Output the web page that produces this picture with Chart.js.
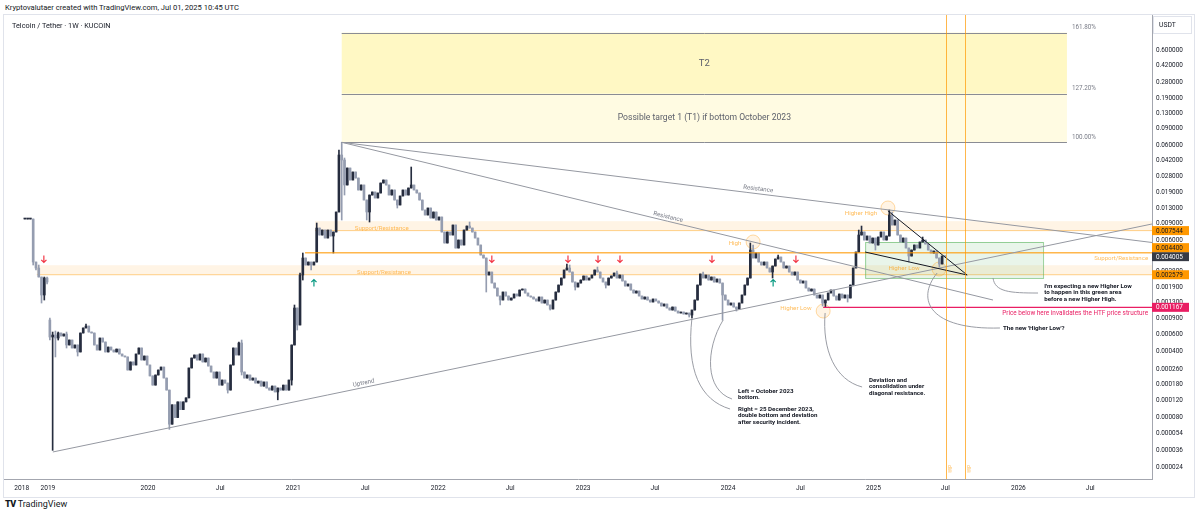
<!doctype html>
<html lang="en">
<head>
<meta charset="utf-8">
<title>Telcoin / Tether - 1W - KUCOIN</title>
<style>
  * { margin: 0; padding: 0; }
  body { width: 1200px; height: 515px; overflow: hidden; background: #fff; position: relative;
         font-family: Roboto, sans-serif; color: #131722; }
  .credit { position: absolute; left: 5px; top: 3px; font-size: 7.6px; }
  .frame { position: absolute; left: 3px; top: 14px; width: 1190px; height: 482px; border: 1px solid #e0e3eb; }
  .frame canvas { position: absolute; left: 0; top: 0; }
  .title { position: absolute; left: 8px; top: 6px; font-size: 7.3px; color: #131722; }
  .logo { position: absolute; left: 5px; top: 499px; font-size: 9px; }
  .logo b { font-weight: 900; letter-spacing: -0.5px; margin-right: 2px; }
</style>
</head>
<body>
<div class="credit">Kryptovalutaer created with TradingView.com, Jul 01, 2025 10:45 UTC</div>
<div class="frame">
  <canvas id="chart" width="1190" height="482"></canvas>
  <div class="title">Telcoin / Tether · 1W · KUCOIN</div>
</div>
<div class="logo"><b>TV</b>TradingView</div>

<script src="https://cdn.jsdelivr.net/npm/chart.js"></script>
<script>
// ---- data ----
// weekly candles, first one is the week of 2019-02-25
const firstWeek = '2019-02-25';
// prices in millionths of a USDT (1e-6)
const closes = [
  10000, 10000, 10000, 3514, 3037, 2440, 1575, 2381, 2160, 567,
  595, 553, 625, 581, 610, 467, 527, 434, 467, 394,
  625, 706, 740, 640, 625, 467, 413, 553, 502, 394,
  444, 413, 394, 423, 375, 357, 349, 254, 309, 287,
  375, 434, 324, 357, 287, 220, 176, 225, 254, 273,
  209, 156, 68, 109, 80, 117, 97, 117, 129, 267,
  340, 366, 324, 375, 309, 340, 280, 242, 209, 242,
  176, 199, 185, 156, 287, 434, 366, 490, 242, 209,
  225, 199, 209, 185, 194, 172, 190, 164, 156, 172,
  149, 164, 156, 176, 156, 199, 467, 1148, 759, 2562,
  3873, 3267, 3514, 3267, 3514, 8030, 6776, 7652, 6299, 7652,
  6613, 7291, 11860, 47450, 42020, 22880, 34580, 25830, 31390, 27110,
  20260, 22880, 15880, 11860, 17930, 19300, 16680, 18830, 24010, 25830,
  22880, 17930, 20260, 15880, 14060, 17500, 20260, 17930, 21260, 22880,
  20260, 18830, 15880, 12450, 11020, 13070, 10250, 11860, 9762, 10500,
  7291, 5578, 7291, 6776, 8642, 4939, 6000, 5313, 7652, 8430,
  8030, 7291, 6299, 5313, 4166, 3873, 2562, 2755, 2108, 1867,
  1537, 1394, 1694, 1537, 1394, 1464, 1613, 1537, 1778, 1822,
  1653, 1537, 1500, 1429, 1361, 1500, 1296, 1394, 1235, 1120,
  1394, 1694, 2008, 2381, 2893, 3037, 2755, 2160, 1913, 2108,
  2268, 2500, 2268, 2381, 2562, 2893, 2755, 2381, 2160, 2008,
  2381, 2500, 2689, 2381, 2562, 2214, 1960, 2058, 1778, 1653,
  1736, 1537, 1429, 1500, 1394, 1328, 1429, 1361, 1296, 1205,
  1265, 1148, 1093, 1176, 1067, 1016, 1041, 992, 1016, 968,
  1093, 1394, 2008, 2625, 2381, 2562, 2268, 2440, 2160, 2324,
  2108, 1575, 1394, 1235, 1296, 1176, 1120, 1296, 1575, 2008,
  2381, 4705, 3873, 4374, 3514, 3267, 3514, 3037, 2755, 3188,
  3780, 3968, 3514, 3037, 3188, 2755, 2562, 2755, 2268, 2108,
  2214, 1867, 1736, 1822, 1575, 1464, 1575, 1296, 1394, 1653,
  1778, 1537, 1394, 1613, 1464, 1575, 1464, 2008, 3037, 4481,
  6776, 7291, 6000, 6613, 5578, 6299, 5313, 6454, 7291, 6000,
  6613, 11020, 8642, 9762, 6776, 5715, 6299, 4939, 4066, 4705,
  5313, 4939, 5715, 6000, 5444, 4705, 4374, 4590, 3873, 3347,
  4066, 4005
];
// a candle opens at the previous close, except where the feed gaps
const gapOpens = { 0: 10000, 9: 857 };
// wicks that stick out of the body (candle index -> price)
const wickHighs = { 5: 3267, 7: 2440, 8: 2440, 9: 900, 10: 640, 11: 656, 12: 640, 15: 640, 22: 778,
  77: 502, 78: 527, 97: 1235, 99: 2689, 100: 4374, 105: 9075, 113: 53600, 114: 64600, 115: 44120,
  139: 35430, 160: 9300, 195: 3347, 196: 3267, 206: 3112, 213: 2823, 244: 2755, 261: 5578,
  262: 5313, 271: 4166, 300: 7652, 301: 8430, 311: 12450, 312: 11860, 323: 6454 };
const wickLows = { 3: 3267, 4: 2893, 6: 1296, 7: 1394, 8: 2058, 9: 527, 10: 36, 11: 349, 12: 527,
  15: 434, 19: 357, 52: 60, 73: 145, 78: 225, 91: 123, 96: 176, 98: 672, 100: 2268, 103: 2893,
  111: 4374, 114: 9762, 115: 17930, 123: 9762, 124: 9300, 134: 13070, 166: 1694, 171: 1235,
  189: 1093, 198: 1778, 209: 1867, 239: 922, 240: 900, 251: 857, 256: 1067, 269: 2381,
  287: 1205, 288: 1167, 296: 1328, 306: 4705, 318: 3514, 329: 3112 };

const xTickLabels = ['2018', '2019', '2020', 'Jul', '2021', 'Jul', '2022', 'Jul', '2023', 'Jul',
  '2024', 'Jul', '2025', 'Jul', '2026', 'Jul'];
// TradingView squeezes the first two year labels in at the start of the series
const xTickDates = ['2019-02-17', '2019-04-24', '2020-01-01', '2020-07-01', '2021-01-01', '2021-07-01',
  '2022-01-01', '2022-07-01', '2023-01-01', '2023-07-01', '2024-01-01', '2024-07-01',
  '2025-01-01', '2025-07-01', '2026-01-01', '2026-07-01'];
const yTicks = [0.6, 0.42, 0.28, 0.19, 0.13, 0.09, 0.06, 0.042, 0.028, 0.019, 0.013, 0.009, 0.006,
  0.004, 0.0028, 0.0019, 0.0013, 0.0009, 0.0006, 0.0004, 0.00026, 0.00018, 0.00012, 0.00008,
  0.000054, 0.000036, 0.000024];

// Fibonacci extension drawn from the 2021 high
const fibLabels = ['100.00%', '127.20%', '161.80%'];
const fibPrices = [0.0646, 0.2108, 0.93];
const fibZoneTexts = ['Possible target 1 (T1) if bottom October 2023', 'T2'];

// price marks on the right axis
const axisMarks = [0.001167, 0.002579, 0.004005, 0.0044, 0.007544];

// ---- drawing objects (x = week index, y = price) ----
const fibSpan = [114.0, 374.9];
const bands = [
  { from: 104.4, top: 0.0095, bottom: 0.007544, text: 'Support/Resistance', at: [118.7, 0.00804] },
  { from: 4.3, top: 0.00325, bottom: 0.002579, text: 'Support/Resistance', at: [119.5, 0.002755] }
];
const srLine = { price: 0.0044, from: 100.8, text: 'Support/Resistance', at: [404.1, 0.003873] };
const trendLines = [
  { a: [10.08, 3.46e-5], b: [405.5, 0.00886], color: '#9598a1', text: 'Uptrend', at: [121.9, 1.852e-4] },
  { a: [114.0, 0.0646], b: [405.5, 0.00565], color: '#9598a1', text: 'Resistance', at: [263.8, 0.02076] },
  { a: [114.0, 0.0646], b: [348.3, 0.001394], color: '#9598a1', text: 'Resistance', at: [231.4, 0.0105] },
  { a: [310.5, 0.0122], b: [339.0, 0.002563], color: '#131722' },
  { a: [302.3, 0.004481], b: [339.0, 0.002563], color: '#131722' }
];
const greenBox = { from: 302.3, to: 366.3, top: 0.005719, bottom: 0.002383 };
const invalidLine = { price: 0.001167, from: 287.2,
  text: 'Price below here invalidates the HTF price structure', at: [404.1, 0.001017] };
const vLines = [331.3, 338.3];
const circles = [[262.0, 0.005719], [310.5, 0.01308], [287.2, 0.001067], [328.9, 0.002964]];
const swingTexts = [['High', 255.5, 0.005578], ['Higher High', 300.8, 0.01157],
  ['Higher Low', 277.4, 0.00113], ['Higher Low', 316.3, 0.003038]];
const downArrows = [6.84, 168.0, 195.4, 206.2, 214.1, 247.2, 277.4];
const downArrowPrice = 0.003781;
const upArrows = [104.0, 269.2];
const upArrowPrice = 0.002109;
const curves = [
  [[240.0, 0.0009], [237.9, 0.000254], [242.9, 0.0001224], [253.7, 9.84e-5]],
  [[251.2, 0.000857], [244.7, 0.000413], [244.7, 1.562e-4], [254.4, 1.255e-4]],
  [[287.9, 0.001017], [286.8, 0.000413], [291.5, 1.992e-4], [301.2, 1.681e-4]],
  [[348.3, 0.002383], [349.0, 0.001694], [354.4, 0.001653], [364.5, 0.001653]],
  [[328.2, 0.00269], [320.3, 0.001394], [325.7, 0.000672], [350.8, 0.000706]]
];
const notes = [
  { lines: ['Left = October 2023', 'bottom.'], at: [256.6, 0.0001525] },
  { lines: ['Right = 25 December 2023,', 'double bottom and deviation', 'after security incident.'], at: [256.6, 9.84e-5] },
  { lines: ['Deviation and', 'consolidation under', 'diagonal resistance.'], at: [303.7, 1.992e-4] },
  { lines: ["I'm expecting a new Higher Low", 'to happen in this green area', 'before a new Higher High.'], at: [366.7, 0.001961] },
  { lines: ["The new 'Higher Low'?"], at: [351.9, 0.000706] }
];

// ---- build candles ----
const U = 1e-6;
const opens = closes.map((c, i) => gapOpens[i] ?? closes[i - 1]);
const highs = closes.map((c, i) => wickHighs[i] ?? Math.max(opens[i], c));
const lows = closes.map((c, i) => wickLows[i] ?? Math.min(opens[i], c));
const upColor = '#262d3f';
const downColor = '#959db0';
const barColors = closes.map((c, i) => (c >= opens[i] ? upColor : downColor));

const weekOf = d => (Date.parse(d) - Date.parse(firstWeek)) / (7 * 864e5);
const xTickValues = xTickDates.map(weekOf);

const ORANGE = 'rgba(255,152,0,0.65)';
const PINK = '#e91e63';

function P(chart, pt) {
  return [chart.scales.x.getPixelForValue(pt[0]), chart.scales.y.getPixelForValue(pt[1])];
}

const overlay = {
  id: 'overlay',
  beforeDatasetsDraw(chart) {
    const { ctx, chartArea: a, scales: { x, y } } = chart;
    ctx.save();
    ctx.beginPath(); ctx.rect(a.left, a.top, a.width, a.height); ctx.clip();

    // fib zones
    const fl = x.getPixelForValue(fibSpan[0]), fr = x.getPixelForValue(fibSpan[1]);
    const fy = fibPrices.map(p => y.getPixelForValue(p));
    ctx.fillStyle = '#fffbe2';
    ctx.fillRect(fl, fy[1], fr - fl, fy[0] - fy[1]);
    ctx.fillStyle = '#fff8c4';
    ctx.fillRect(fl, fy[2], fr - fl, fy[1] - fy[2]);

    // support / resistance bands
    bands.forEach(b => {
      const l = x.getPixelForValue(b.from);
      const t = y.getPixelForValue(b.top), btm = y.getPixelForValue(b.bottom);
      ctx.fillStyle = 'rgba(255,152,0,0.1)';
      ctx.fillRect(l, t, a.right - l, btm - t);
      ctx.strokeStyle = 'rgba(255,152,0,0.45)';
      ctx.lineWidth = 1;
      ctx.beginPath(); ctx.moveTo(l, btm); ctx.lineTo(a.right, btm); ctx.stroke();
    });

    // green area
    const g1 = P(chart, [greenBox.from, greenBox.top]), g2 = P(chart, [greenBox.to, greenBox.bottom]);
    ctx.fillStyle = 'rgba(76,175,80,0.12)';
    ctx.fillRect(g1[0], g1[1], g2[0] - g1[0], g2[1] - g1[1]);
    ctx.strokeStyle = 'rgba(76,175,80,0.55)';
    ctx.strokeRect(g1[0] + 0.5, g1[1] + 0.5, g2[0] - g1[0], g2[1] - g1[1]);

    // circles
    circles.forEach(c => {
      const p = P(chart, c);
      ctx.beginPath(); ctx.arc(p[0], p[1], 7, 0, Math.PI * 2);
      ctx.fillStyle = 'rgba(255,152,0,0.1)'; ctx.fill();
      ctx.strokeStyle = 'rgba(255,152,0,0.35)'; ctx.stroke();
    });
    ctx.restore();
  },
  afterDatasetsDraw(chart) {
    const { ctx, chartArea: a, scales: { x, y } } = chart;
    ctx.save();
    ctx.beginPath(); ctx.rect(a.left, a.top, a.width, a.height); ctx.clip();
    ctx.textBaseline = 'middle';

    // fib lines and texts
    const fl = x.getPixelForValue(fibSpan[0]), fr = x.getPixelForValue(fibSpan[1]);
    const fy = fibPrices.map(p => y.getPixelForValue(p));
    ctx.strokeStyle = '#8a8c94'; ctx.lineWidth = 1;
    fy.forEach((v, i) => {
      ctx.beginPath(); ctx.moveTo(fl, Math.round(v) + 0.5); ctx.lineTo(fr, Math.round(v) + 0.5); ctx.stroke();
      ctx.fillStyle = '#787b86'; ctx.font = '6.3px Roboto'; ctx.textAlign = 'left';
      ctx.fillText(fibLabels[i], fr + 5, v - 5);
    });
    ctx.fillStyle = '#5d606b'; ctx.textAlign = 'center';
    ctx.font = '8.6px Roboto';
    ctx.fillText(fibZoneTexts[0], (fl + fr) / 2, (fy[0] + fy[1]) / 2);
    ctx.font = '9.5px Roboto';
    ctx.fillText(fibZoneTexts[1], (fl + fr) / 2, (fy[1] + fy[2]) / 2);

    // S/R texts
    ctx.font = '6.1px Roboto'; ctx.fillStyle = ORANGE; ctx.textAlign = 'left';
    bands.forEach(b => { const p = P(chart, b.at); ctx.fillText(b.text, p[0], p[1]); });

    // S/R line
    const sy = y.getPixelForValue(srLine.price), sx = x.getPixelForValue(srLine.from);
    ctx.strokeStyle = 'rgba(255,152,0,0.7)'; ctx.lineWidth = 1.4;
    ctx.beginPath(); ctx.moveTo(sx, sy); ctx.lineTo(a.right, sy); ctx.stroke();
    ctx.textAlign = 'right';
    const sp = P(chart, srLine.at); ctx.fillText(srLine.text, sp[0], sp[1]);

    // trend lines
    trendLines.forEach(t => {
      const p1 = P(chart, t.a), p2 = P(chart, t.b);
      ctx.strokeStyle = t.color; ctx.lineWidth = 1;
      ctx.beginPath(); ctx.moveTo(p1[0], p1[1]); ctx.lineTo(p2[0], p2[1]); ctx.stroke();
      if (t.text) {
        const at = P(chart, t.at);
        ctx.save();
        ctx.translate(at[0], at[1]);
        ctx.rotate(Math.atan2(p2[1] - p1[1], p2[0] - p1[0]));
        ctx.fillStyle = '#787b86'; ctx.font = '6.2px Roboto'; ctx.textAlign = 'center';
        ctx.fillText(t.text, 0, 0);
        ctx.restore();
      }
    });

    // invalidation line
    const iy = y.getPixelForValue(invalidLine.price), ix = x.getPixelForValue(invalidLine.from);
    ctx.strokeStyle = PINK; ctx.lineWidth = 1.3;
    ctx.beginPath(); ctx.moveTo(ix, iy); ctx.lineTo(a.right, iy); ctx.stroke();
    ctx.fillStyle = PINK; ctx.font = '6.4px Roboto'; ctx.textAlign = 'right';
    const ip = P(chart, invalidLine.at); ctx.fillText(invalidLine.text, ip[0], ip[1]);

    // vertical lines
    ctx.strokeStyle = 'rgba(255,152,0,0.7)'; ctx.lineWidth = 1;
    vLines.forEach(v => {
      const vx = Math.round(x.getPixelForValue(v)) + 0.5;
      ctx.beginPath(); ctx.moveTo(vx, a.top); ctx.lineTo(vx, a.bottom); ctx.stroke();
      ctx.save();
      ctx.translate(vx + 4, a.bottom - 6);
      ctx.rotate(-Math.PI / 2);
      ctx.fillStyle = ORANGE; ctx.font = '4.5px Roboto'; ctx.textAlign = 'left';
      ctx.fillText('WIP', 0, 0);
      ctx.restore();
    });

    // swing texts
    ctx.font = '6.2px Roboto'; ctx.fillStyle = ORANGE; ctx.textAlign = 'center';
    swingTexts.forEach(s => { const p = P(chart, [s[1], s[2]]); ctx.fillText(s[0], p[0], p[1]); });

    // arrows
    ctx.lineWidth = 1.2;
    const arrow = (px, py, dir, col) => {
      ctx.strokeStyle = col;
      ctx.beginPath();
      ctx.moveTo(px, py - 3.5 * dir); ctx.lineTo(px, py + 3.5 * dir);
      ctx.moveTo(px - 2.6, py + 0.8 * dir); ctx.lineTo(px, py + 3.5 * dir); ctx.lineTo(px + 2.6, py + 0.8 * dir);
      ctx.stroke();
    };
    downArrows.forEach(v => { const p = P(chart, [v, downArrowPrice]); arrow(p[0], p[1], 1, '#f23645'); });
    upArrows.forEach(v => { const p = P(chart, [v, upArrowPrice]); arrow(p[0], p[1], -1, '#089981'); });

    // connector curves
    ctx.strokeStyle = '#8f929b'; ctx.lineWidth = 0.9;
    curves.forEach(c => {
      const q = c.map(pt => P(chart, pt));
      ctx.beginPath(); ctx.moveTo(q[0][0], q[0][1]);
      ctx.bezierCurveTo(q[1][0], q[1][1], q[2][0], q[2][1], q[3][0], q[3][1]);
      ctx.stroke();
    });

    // notes
    ctx.fillStyle = '#131722'; ctx.font = 'bold 6.2px Roboto'; ctx.textAlign = 'left';
    notes.forEach(n => {
      const p = P(chart, n.at);
      n.lines.forEach((t, k) => ctx.fillText(t, p[0], p[1] + k * 6.9));
    });
    ctx.restore();
  },
  afterDraw(chart) {
    const { ctx, chartArea: a, scales: { y } } = chart;
    ctx.save();
    // currency box
    ctx.fillStyle = '#fff';
    ctx.fillRect(a.right + 1, a.top + 1, 38, 17);
    ctx.strokeStyle = '#e0e3eb';
    ctx.strokeRect(a.right + 1.5, a.top + 1.5, 38, 17);
    ctx.fillStyle = '#131722'; ctx.font = '6.8px Roboto'; ctx.textBaseline = 'middle'; ctx.textAlign = 'left';
    ctx.fillText('USDT', a.right + 7, a.top + 10);

    // axis price marks, pushed apart when they overlap
    const styles = {
      0.001167: ['#e91e63', '#fff'], 0.002579: ['#ff9800', '#131722'], 0.004005: ['#363a45', '#fff'],
      0.0044: ['#ff9800', '#131722'], 0.007544: ['#ff9800', '#131722']
    };
    const h = 9;
    let prev = Infinity;
    axisMarks.forEach(v => {
      let py = y.getPixelForValue(v);
      if (prev - py < h) py = prev - h;
      prev = py;
      const [bg, fg] = styles[v];
      ctx.fillStyle = bg;
      ctx.fillRect(a.right, py - h / 2, 37, h);
      ctx.fillStyle = fg; ctx.font = '6.4px Roboto';
      ctx.fillText(v.toFixed(6), a.right + 4, py + 0.5);
    });
    ctx.restore();
  }
};

Chart.defaults.font.family = 'Roboto';

new Chart(document.getElementById('chart'), {
  type: 'bar',
  data: {
    datasets: [
      { data: closes.map((c, i) => ({ x: i, y: [lows[i] * U, highs[i] * U] })),
        backgroundColor: barColors, barThickness: 1, grouped: false },
      { data: closes.map((c, i) => ({ x: i, y: [opens[i] * U, c * U] })),
        backgroundColor: barColors, barThickness: 2, minBarLength: 1, grouped: false }
    ]
  },
  options: {
    responsive: false,
    animation: false,
    events: [],
    layout: { padding: 0 },
    plugins: { legend: { display: false }, tooltip: { enabled: false } },
    scales: {
      x: {
        type: 'linear', offset: false, min: -7.5, max: 405.5,
        grid: { display: false, drawTicks: false },
        border: { color: '#a3a6af' },
        afterBuildTicks: s => { s.ticks = xTickValues.map(v => ({ value: v })); },
        afterFit: s => { s.height = 18; s.paddingLeft = 0; s.paddingRight = 0; },
        ticks: { autoSkip: false, maxRotation: 0, padding: 5, color: '#131722', font: { size: 6.6 },
                 callback: (v, i) => xTickLabels[i] }
      },
      y: {
        type: 'logarithmic', position: 'right', min: 1.793e-5, max: 1.43,
        grid: { display: false, drawTicks: false },
        border: { color: '#a3a6af' },
        afterBuildTicks: s => { s.ticks = yTicks.map(v => ({ value: v })); },
        afterFit: s => { s.width = 42; s.paddingTop = 0; s.paddingBottom = 0; },
        ticks: { autoSkip: false, padding: 4, color: '#131722', font: { size: 6.4 },
                 callback: v => v.toFixed(6) }
      }
    }
  },
  plugins: [overlay]
});
</script>
</body>
</html>
